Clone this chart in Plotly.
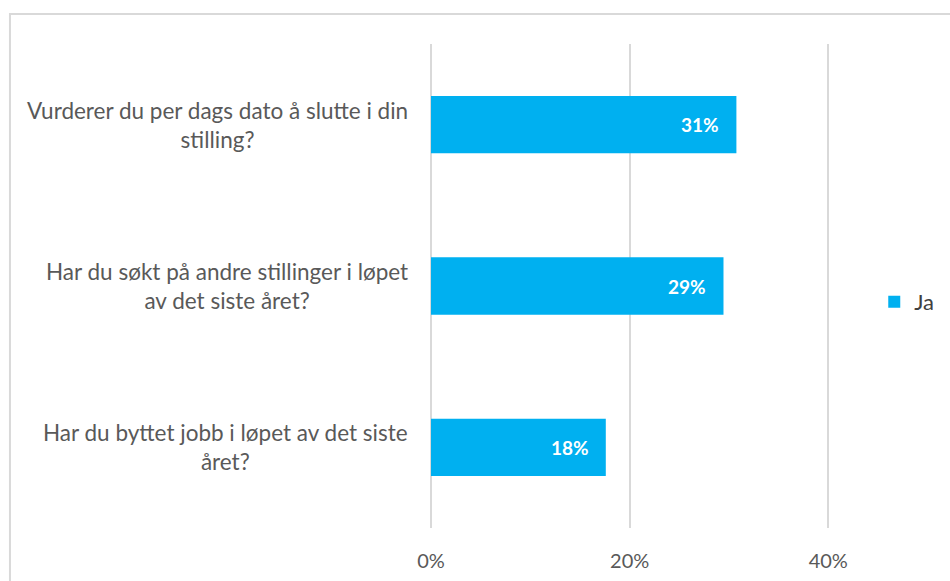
import plotly.graph_objects as go

# Data
questions = [
    "Vurderer du per dags dato å slutte i din<br>stilling?",
    "Har du søkt på andre stillinger i løpet<br>av det siste året?",
    "Har du byttet jobb i løpet av det siste<br>året?",
]
ja_values = [0.3075, 0.2945, 0.176]
ja_labels = ["31%", "29%", "18%"]
tick_vals = [0, 0.2, 0.4]
tick_text = ["0%", "20%", "40%"]

font_family = "Lato, 'Open Sans', sans-serif"
grey_text = "#595959"

fig = go.Figure()
fig.add_trace(go.Bar(
    y=questions,
    x=ja_values,
    orientation="h",
    name="Ja",
    marker=dict(color="#00B0F0", line=dict(width=0)),
    hoverinfo="skip",
))

#Category labels (centred lines) and value labels
annotations = []
for q, v, lab in zip(questions, ja_values, ja_labels):
    annotations.append(dict(
        x=0, y=q, xref="x", yref="y", text=q, showarrow=False,
        xanchor="right", yanchor="middle", align="center", xshift=-21,
        font=dict(family=font_family, size=22.5, color=grey_text),
    ))
    annotations.append(dict(
        x=v, y=q, xref="x", yref="y", text="<b>" + lab + "</b>", showarrow=False,
        xanchor="right", yanchor="middle", xshift=-15,
        font=dict(family=font_family, size=19, color="white"),
    ))

fig.update_layout(
    width=950, height=581,
    margin=dict(l=431, r=81, t=44, b=53),
    paper_bgcolor="white", plot_bgcolor="white",
    font=dict(family=font_family, size=19, color=grey_text),
    bargap=0.645,
    showlegend=True,
    legend=dict(x=1.012, y=0.467, xanchor="left", yanchor="middle",
                font=dict(family=font_family, size=22, color="#404040"),
                itemwidth=30, bgcolor="rgba(0,0,0,0)"),
    annotations=annotations,
    shapes=[dict(type="rect", xref="paper", yref="paper",
                 x0=(9 - 431) / 438, x1=(980 - 431) / 438,
                 y0=(528 - 600) / 484, y1=(528 - 14) / 484,
                 line=dict(color="#D9D9D9", width=2), layer="below")],
)

fig.update_xaxes(
    range=[0, 0.44], tickvals=tick_vals, ticktext=tick_text,
    showgrid=True, gridcolor="#D9D9D9", gridwidth=1.5,
    zeroline=True, zerolinecolor="#D9D9D9", zerolinewidth=1.5,
    showline=False, ticks="", ticklabelstandoff=19, automargin=False,
    tickfont=dict(family=font_family, size=20, color=grey_text),
)
fig.update_yaxes(
    categoryorder="array", categoryarray=questions, autorange="reversed",
    showticklabels=False, showgrid=False, zeroline=False, showline=False,
    automargin=False,
)

fig.write_html("out.html", config={"displayModeBar": False},
               post_script="document.body.style.margin='0px';")
